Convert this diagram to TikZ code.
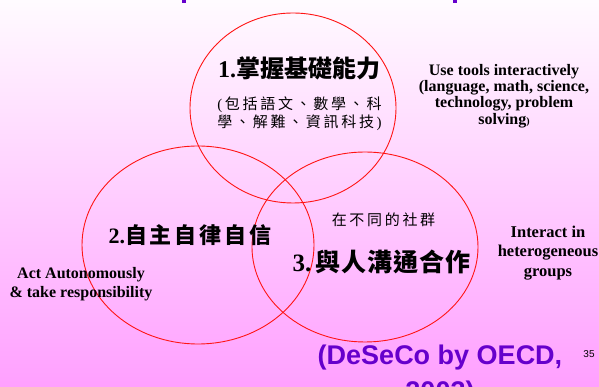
\documentclass[tikz,border=0pt]{standalone}
\usepackage{fontspec}
\setmainfont{Liberation Serif}
\newfontfamily\cjk{Noto Sans CJK TC}
\newfontfamily\arialfont{Liberation Sans}
\usetikzlibrary{shapes.geometric}
\definecolor{bgtop}{RGB}{255,251,255}
\definecolor{bgbot}{RGB}{255,160,255}
\definecolor{vred}{RGB}{255,20,20}
\definecolor{oecd}{RGB}{102,0,204}
\begin{document}
\begin{tikzpicture}[x=1pt,y=1pt,
  ring/.style={ellipse,draw=vred,line width=0.9pt,inner sep=0pt},
  entxt/.style={font=\bfseries\fontsize{16}{16.3}\selectfont,align=center,inner sep=0pt},
  sidetxt/.style={font=\bfseries\fontsize{16}{19.5}\selectfont,align=center,inner sep=0pt},
  headtxt/.style={inner sep=0pt,align=center},
  subtxt/.style={inner sep=0pt,align=center}]
\shade[top color=bgtop,bottom color=bgbot] (0,0) rectangle (599,387);
\useasboundingbox (0,0) rectangle (599,387);
% cut-off title remnants
\fill[oecd] (181.5,384) rectangle (186,387);
\fill[oecd] (452.5,384) rectangle (457,387);
% circles
\node[ring,minimum width=206pt,minimum height=190pt] (c1) at (293,279) {};
\node[ring,minimum width=232pt,minimum height=198pt] (c2) at (198,142) {};
\node[ring,minimum width=226pt,minimum height=190pt] (c3) at (365,140) {};
% texts circle 1
\node[headtxt,font=\fontsize{24}{24}\selectfont] (t1) at (299,319)
  {\bfseries 1.{\cjk\bfseries 掌握基礎能力}};
\node[subtxt,font=\fontsize{15}{18}\selectfont] (t1b) at (299.5,273)
  {(\,{\cjk\addfontfeature{LetterSpace=18}包括語文、數學、科}\\
   {\cjk\addfontfeature{LetterSpace=18}學、解難、資訊科技}\,)};
% circle 2
\node[headtxt,font=\fontsize{22}{22}\selectfont] (t2) at (190,152)
  {\bfseries 2.{\cjk\bfseries\addfontfeature{LetterSpace=13}自主自律自信}};
% circle 3
\node[subtxt,font=\fontsize{15}{15}\selectfont] (t3b) at (383.5,167)
  {{\cjk\addfontfeature{LetterSpace=18}在不同的社群}};
\node[headtxt,font=\fontsize{25}{25}\selectfont] (t3) at (381.5,125)
  {\bfseries 3.\,{\cjk\bfseries\addfontfeature{LetterSpace=4}與人溝通合作}};
% side texts
\node[entxt] (use) at (504,291)
  {Use tools interactively\\(language, math, science,\\technology, problem\\solving{\fontsize{10}{10}\selectfont)}};
\node[sidetxt] (act) at (81,103) {Act Autonomously\\\& take responsibility};
\node[sidetxt,font=\bfseries\fontsize{16.5}{19.5}\selectfont] (inter) at (548,134) {Interact in\\heterogeneous\\groups};
% source
\node[inner sep=0pt,text=oecd,font=\arialfont\bfseries\fontsize{27}{27}\selectfont] (src) at (440,29) {(DeSeCo by OECD,};
\node[inner sep=0pt,text=oecd,anchor=base,font=\arialfont\bfseries\fontsize{27}{27}\selectfont] (yr) at (440,-14) {2003)};
\node[inner sep=0pt,font=\arialfont\fontsize{10}{10}\selectfont] (pg) at (589,33) {35};
\end{tikzpicture}
\end{document}
